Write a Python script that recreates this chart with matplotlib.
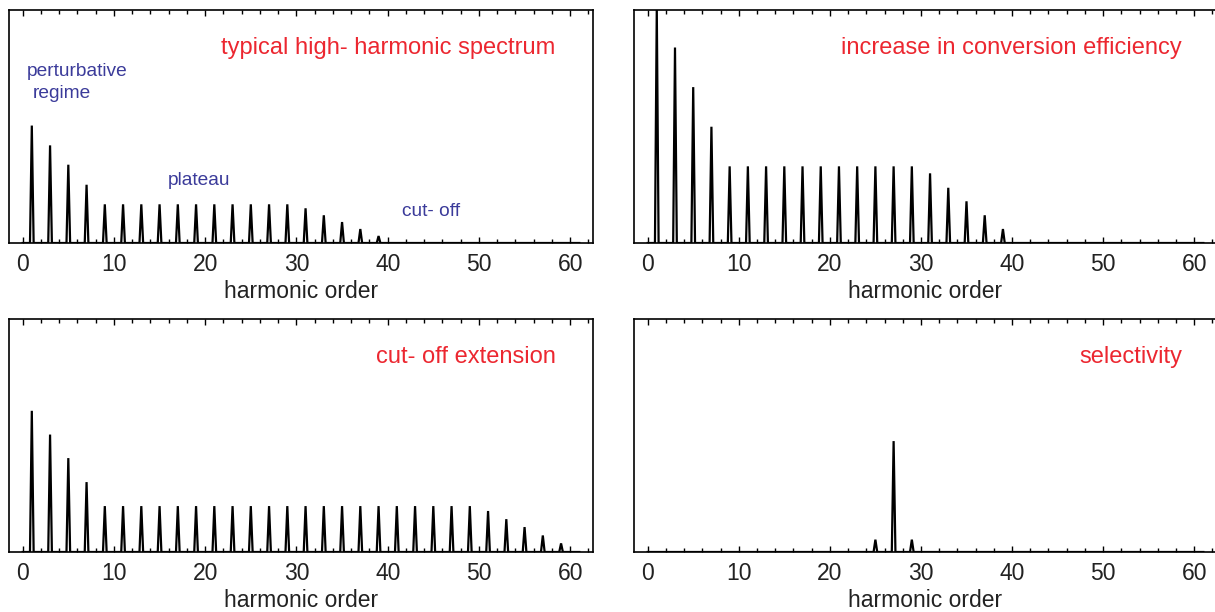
import numpy as np
import matplotlib
matplotlib.use("Agg")
import matplotlib.pyplot as plt

plt.rcParams['font.family'] = ['Liberation Sans', 'DejaVu Sans']

# peak heights (relative units, axis top = 1)
orders_a = list(range(1, 40, 2))
heights_a = [0.504, 0.419, 0.336, 0.25, 0.166, 0.166, 0.166, 0.166, 0.166, 0.166,
             0.166, 0.166, 0.166, 0.166, 0.166, 0.149, 0.119, 0.09, 0.06, 0.03]

orders_b = list(range(1, 40, 2))
heights_b = [1.01, 0.839, 0.669, 0.499, 0.329, 0.329, 0.329, 0.329, 0.329, 0.329,
             0.329, 0.329, 0.329, 0.329, 0.329, 0.299, 0.237, 0.179, 0.119, 0.06]

orders_c = list(range(1, 60, 2))
heights_c = [0.606, 0.504, 0.403, 0.30] + [0.197] * 21 + [0.176, 0.141, 0.107, 0.071, 0.037]

orders_d = [25, 27, 29]
heights_d = [0.053, 0.476, 0.053]

titles = ["typical high- harmonic spectrum", "increase in conversion efficiency",
          "cut- off extension", "selectivity"]

RED = "#ec2730"
BLUE = "#3b3b9a"


def spectrum(orders, heights, half=0.2, xmax=61):
    xs = [0.0]
    ys = [0.0]
    for q, a in zip(orders, heights):
        xs += [q - half, q, q + half]
        ys += [0.0, a, 0.0]
    xs.append(xmax)
    ys.append(0.0)
    return np.array(xs), np.array(ys)


fig = plt.figure(figsize=(12.15, 6.12), dpi=100)
W, H = 1215.0, 612.0
boxes = [(9, 10, 593, 243), (634, 10, 1217, 243),
         (9, 319, 593, 552), (634, 319, 1217, 552)]
data = [(orders_a, heights_a), (orders_b, heights_b),
        (orders_c, heights_c), (orders_d, heights_d)]

for i, ((x0, y0, x1, y1), (q, a)) in enumerate(zip(boxes, data)):
    ax = fig.add_axes([x0 / W, 1 - y1 / H, (x1 - x0) / W, (y1 - y0) / H])
    xs, ys = spectrum(q, a)
    ax.plot(xs, ys, color="black", lw=1.6, solid_joinstyle="miter")
    ax.set_xlim(-1.5, 62.5)
    ax.set_ylim(0, 1)
    ax.set_yticks([])
    ax.set_xticks(range(0, 61, 10))
    ax.set_xticks(range(0, 63, 2), minor=True)
    ax.tick_params(axis="x", which="both", direction="in", top=True,
                   labelsize=16.5, pad=7, colors="black", labelcolor="#222222")
    ax.tick_params(axis="x", which="major", length=4, width=1)
    ax.tick_params(axis="x", which="minor", length=3, width=1)
    for s in ax.spines.values():
        s.set_linewidth(1.2)
    ax.set_xlabel("harmonic order", fontsize=16.5, labelpad=3, color="#222222")
    ax.text(0.936 if i % 2 == 0 else 0.94, 0.835, titles[i], transform=ax.transAxes,
            ha="right", va="center", color=RED, fontsize=17)

ax0 = fig.axes[0]
ax0.text(0.45, 0.734, "perturbative", color=BLUE, fontsize=13.8, ha="left", va="center")
ax0.text(1.1, 0.64, "regime", color=BLUE, fontsize=13.8, ha="left", va="center")
ax0.text(15.9, 0.27, "plateau", color=BLUE, fontsize=13.8, ha="left", va="center")
ax0.text(41.6, 0.137, "cut- off", color=BLUE, fontsize=13.8, ha="left", va="center")

fig.savefig("out.png", dpi=100)
